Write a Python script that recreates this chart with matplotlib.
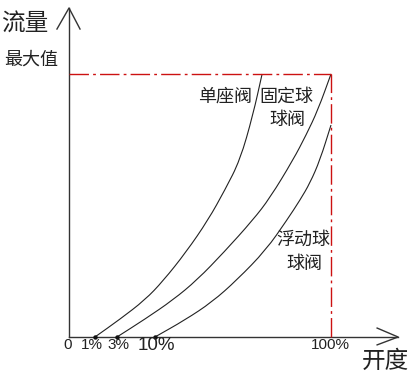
import matplotlib.pyplot as plt
from matplotlib.path import Path
from matplotlib.patches import PathPatch

plt.rcParams['font.family'] = ['Noto Sans CJK SC', 'DejaVu Sans']

# ---------------------------------------------------------------
# DATA  (x: opening, 100 = full open ; y: flow, 100 = max flow)
# ---------------------------------------------------------------
single_x = [9.9, 19.5, 29.0, 35.9, 44.7, 53.1, 59.5, 65.3, 70.2, 73.7]
single_y = [0, 6.8, 14.1, 21.3, 32.3, 44.5, 55.9, 67.3, 84.4, 100]

fixed_x = [18.3, 29.0, 39.7, 48.9, 59.2, 70.2, 76.7, 85.5, 90.5, 95.0, 100]
fixed_y = [0, 6.8, 14.1, 21.7, 32.3, 44.5, 52.9, 67.3, 76.8, 86.3, 100]

float_x = [32.8, 44.3, 54.6, 64.1, 75.2, 83.2, 88.2, 92.0, 95.8, 100]
float_y = [0, 6.5, 13.3, 21.7, 33.1, 44.5, 52.1, 58.6, 67.3, 80.6]

tick_pos = [-0.4, 8.8, 18.9, 33.4, 99.6]
tick_labels = ['0', '1%', '3%', '10%', '100%']
tick_sizes = [11, 11, 11, 13.5, 11]

max_flow = 100
full_open = 100


def smooth_path(xs, ys):
    # quadratic b-spline through the read-off points, drawn by matplotlib
    pts = list(zip(xs, ys))
    mid = lambda a, b: ((a[0] + b[0]) / 2, (a[1] + b[1]) / 2)
    verts = [pts[0], mid(pts[0], pts[1])]
    codes = [Path.MOVETO, Path.LINETO]
    for i in range(1, len(pts) - 1):
        verts += [pts[i], mid(pts[i], pts[i + 1])]
        codes += [Path.CURVE3, Path.CURVE3]
    verts.append(pts[-1])
    codes.append(Path.LINETO)
    return Path(verts, codes)


# ---------------------------------------------------------------
# PLOT
# ---------------------------------------------------------------
fig = plt.figure(figsize=(4.16, 3.78), dpi=100)
ax = fig.add_axes([0, 0, 1, 1])
ax.set_xlim(-26.34, 132.44)
ax.set_ylim(-15.59, 128.14)
ax.axis('off')

axis_col = '#333333'
# axes with open arrow heads
ax.plot([0, 0], [0, 125.1], color=axis_col, lw=1.0)
ax.plot([0, 125.6], [0, 0], color=axis_col, lw=1.0)
ax.plot([-4.6, 0, 4.2], [117.1, 125.1, 117.1], color=axis_col, lw=1.0)
ax.plot([117.6, 125.6, 117.6], [3.4, 0, -3.0], color=axis_col, lw=1.0)

# max flow / full open reference lines
red = '#cc1111'
ax.plot([0, full_open], [max_flow, max_flow], color=red, lw=1.0,
        linestyle=(0, (14, 3, 2, 3)))
ax.plot([full_open, full_open], [0, max_flow], color=red, lw=1.0,
        linestyle=(0, (14, 3, 2, 3)))

# characteristic curves
for xs, ys in [(single_x, single_y), (fixed_x, fixed_y), (float_x, float_y)]:
    ax.add_patch(PathPatch(smooth_path(xs, ys), facecolor='none',
                           edgecolor='#222222', lw=0.8))
    ax.plot(xs[0], ys[0], 'o', color='#111111', ms=2.2)

# tick labels under the x axis
for p, lab, s in zip(tick_pos, tick_labels, tick_sizes):
    ax.text(p, -3.2, lab, ha='center', va='center', fontsize=s,
            color='#222222', family=['Liberation Sans', 'DejaVu Sans'])

txt = dict(color='#222222', ha='center', va='center')
ax.text(-16.8, 119.0, '流量', fontsize=17, **txt)
ax.text(-14.5, 105.5, '最大值', fontsize=13, **txt)
ax.text(120.6, -9.1, '开度', fontsize=17, **txt)
ax.text(59.7, 91.4, '单座阀', fontsize=13, **txt)
ax.text(83.0, 91.4, '固定球', fontsize=13, **txt)
ax.text(83.4, 82.5, '球阀', fontsize=13, **txt)
ax.text(89.5, 36.9, '浮动球', fontsize=13, **txt)
ax.text(90.0, 27.8, '球阀', fontsize=13, **txt)

fig.savefig('out.png', dpi=100, facecolor='white')
